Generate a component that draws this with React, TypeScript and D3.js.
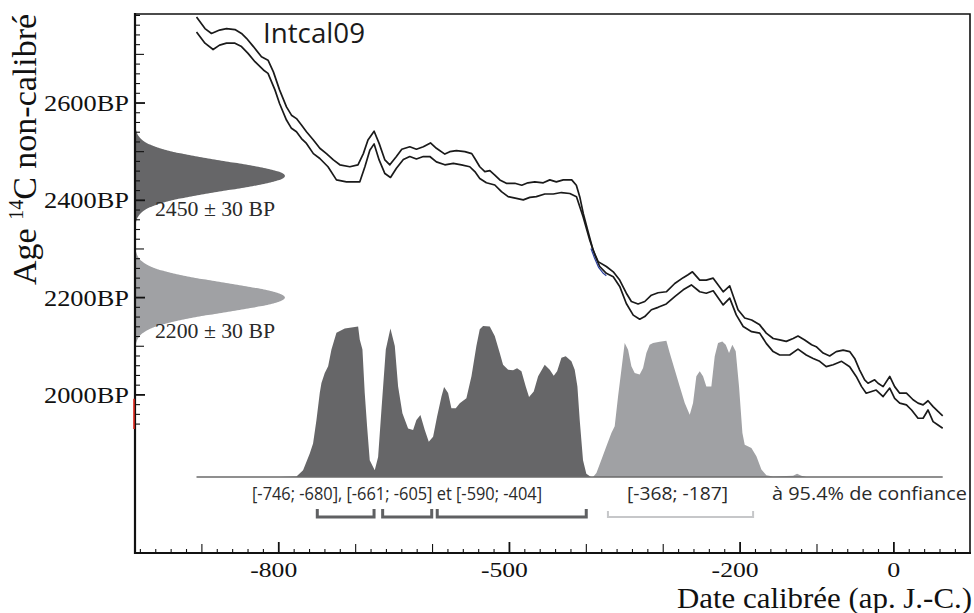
import React from 'react';
import * as d3 from 'd3';

const W = 974;
const H = 613;

// IntCal09 envelope, [calendar year, 14C age BP]
const intcalUpper: [number, number][] = [
  [-907, 2777], [-896, 2753], [-887.5, 2743], [-877, 2750], [-868, 2753], [-857, 2751], [-848.5, 2743],
  [-842, 2733], [-833, 2716], [-822.5, 2695], [-814, 2688], [-807, 2664], [-799, 2627], [-790, 2592],
  [-783.5, 2575], [-777, 2568], [-770.5, 2555], [-764, 2541], [-755, 2524], [-746.6, 2507], [-738, 2496],
  [-729, 2483], [-720.6, 2473], [-707.6, 2469], [-697, 2473], [-690, 2496], [-684, 2524], [-676, 2542],
  [-669.5, 2517], [-662, 2483], [-655.6, 2473], [-647, 2490], [-640, 2505], [-629.6, 2510], [-621, 2505],
  [-612, 2510], [-602.7, 2518], [-595, 2507], [-584, 2495], [-577.6, 2500], [-569, 2502], [-558, 2500],
  [-549, 2496], [-545, 2486], [-538.6, 2469], [-532, 2459], [-525.5, 2461], [-519, 2452], [-512.5, 2442],
  [-504, 2435], [-493, 2435], [-484, 2431], [-476, 2436], [-467, 2438], [-456, 2436], [-447.5, 2442],
  [-439, 2438], [-430, 2442], [-419, 2442], [-413, 2431], [-408.5, 2407], [-404, 2373], [-397.8, 2336],
  [-391.3, 2298], [-384.7, 2274], [-374, 2264], [-365, 2253], [-356.6, 2236], [-348, 2209], [-341.4, 2192],
  [-332.7, 2187], [-324, 2192], [-315.4, 2205], [-306.7, 2210], [-296, 2212], [-285, 2229], [-274, 2241],
  [-267.7, 2247], [-262, 2253], [-252.5, 2236], [-244, 2236], [-235, 2240], [-222, 2212], [-213.5, 2224],
  [-202.7, 2175], [-194, 2158], [-185, 2154], [-174.5, 2144], [-166, 2127], [-157, 2116], [-148.5, 2113],
  [-140, 2110], [-131, 2116], [-124.7, 2121], [-116, 2113], [-107, 2103], [-101, 2099], [-92, 2086],
  [-83.5, 2080], [-75, 2089], [-66, 2092], [-57.5, 2089], [-51, 2075], [-44.5, 2051], [-38, 2031],
  [-33.6, 2024], [-25, 2031], [-20.6, 2024], [-14, 2017], [-5.4, 2038], [1, 2017], [7.6, 2003.5],
  [16.3, 2003.5], [25, 1990], [31.4, 1983], [38, 1979.5], [44.4, 1988], [51, 1976], [57.4, 1966], [63.5, 1957],
];

const intcalLower: [number, number][] = [
  [-907, 2746], [-896, 2723], [-885.4, 2710], [-877, 2719], [-868, 2723], [-857, 2723], [-848.5, 2716],
  [-840, 2702], [-831, 2685], [-820, 2668], [-814, 2661], [-805, 2627], [-799, 2599], [-790, 2565],
  [-783.5, 2548], [-777, 2541], [-770.5, 2527], [-764, 2517], [-755, 2496], [-746.6, 2486], [-736, 2469],
  [-725, 2442], [-712, 2438], [-701, 2438], [-694.6, 2438], [-688, 2469], [-681.6, 2503], [-676, 2516],
  [-669.5, 2483], [-662, 2455], [-654.7, 2447], [-647, 2466], [-638, 2484], [-629.6, 2490], [-621, 2485],
  [-612, 2490], [-603.6, 2490], [-595, 2479], [-584, 2473], [-573, 2476], [-562.4, 2473], [-551.6, 2469],
  [-545, 2459], [-538.6, 2445], [-530, 2436], [-519, 2431.5], [-510.4, 2418], [-501.7, 2407.5], [-491, 2404],
  [-482, 2401], [-473.5, 2406], [-465, 2407.5], [-454, 2413], [-443, 2413], [-432.4, 2416], [-421.5, 2414],
  [-412.8, 2407.5], [-404.2, 2366], [-395.6, 2318.6], [-389, 2288], [-382.6, 2264], [-374, 2250],
  [-365, 2243], [-356.6, 2223], [-348, 2188], [-339, 2164], [-330.6, 2155.5], [-324, 2161], [-315.4, 2175],
  [-306.7, 2180], [-296, 2187], [-285, 2202], [-274, 2216], [-263.4, 2226], [-252.5, 2212], [-244, 2209],
  [-235, 2214], [-222, 2185], [-213.5, 2199], [-205, 2164.5], [-196, 2140.5], [-185, 2130], [-174.5, 2127],
  [-166, 2106], [-157, 2089], [-148.5, 2082], [-135.5, 2082], [-124.7, 2094], [-114, 2082], [-105, 2075],
  [-96.5, 2069], [-88, 2058], [-79, 2062], [-68, 2069], [-57.5, 2058], [-49, 2038], [-42, 2017], [-36, 2003.5],
  [-29, 2007], [-23, 2010], [-14, 1996.6], [-5.4, 2014], [1, 1993], [7.6, 1983], [16.3, 1979.5], [23, 1969],
  [31.4, 1952], [38, 1952], [44.4, 1969], [51, 1945], [57.4, 1938], [63.5, 1931.6],
];

// short visible piece of the curve's central trace
const intcalMidTrace: [number, number][] = [
  [-394, 2301], [-389.5, 2282], [-384, 2262], [-378, 2250], [-374, 2245],
];

// measured radiocarbon ages
const sampleMeans = [2450, 2200];
const sampleSigmas = [30, 30];
const sampleLabels = ['2450 ± 30 BP', '2200 ± 30 BP'];
const sampleColors = ['#666668', '#a0a1a4'];

// calibrated probability densities, [calendar year, relative probability]
const calibDark: [number, number][] = [
  [-799, 0], [-777, 0.004], [-768.4, 0.044], [-759.7, 0.156], [-755.4, 0.222], [-751, 0.378],
  [-746.7, 0.556], [-744.5, 0.622], [-740.2, 0.689], [-735.8, 0.733], [-731.5, 0.844], [-725, 0.956],
  [-714.2, 0.984], [-696.8, 0.996], [-694.7, 0.911], [-691.2, 0.844], [-688.2, 0.556], [-685.1, 0.333],
  [-681.7, 0.111], [-675.2, 0.044], [-670.8, 0.133], [-666.5, 0.444], [-660.8, 0.844], [-654.8, 0.984],
  [-649.1, 0.867], [-644.8, 0.6], [-639.2, 0.422], [-631.8, 0.322], [-625.3, 0.311], [-621, 0.378],
  [-615.8, 0.411], [-610.1, 0.311], [-604.9, 0.233], [-599.3, 0.267], [-594.1, 0.4], [-588.4, 0.533],
  [-585, 0.596], [-579.8, 0.556], [-575.5, 0.456], [-569.8, 0.456], [-564.6, 0.489], [-556, 0.522],
  [-549.4, 0.667], [-543, 0.867], [-538.6, 0.978], [-534.3, 1.0], [-525.6, 0.996], [-519.1, 0.933],
  [-512.6, 0.822], [-508.3, 0.744], [-501.7, 0.711], [-495.3, 0.707], [-490.1, 0.72], [-484.4, 0.7],
  [-478.8, 0.6], [-474.5, 0.529], [-468.4, 0.567], [-462.7, 0.667], [-454.1, 0.744], [-447.6, 0.711],
  [-442.4, 0.671], [-438, 0.7], [-432.4, 0.789], [-426.8, 0.8], [-419.4, 0.767], [-415.1, 0.711],
  [-411.6, 0.6], [-408.6, 0.378], [-404.3, 0.111], [-400, 0.022], [-394, 0],
];

const calibLight: [number, number][] = [
  [-391.3, 0], [-386.9, 0.026], [-380.4, 0.115], [-373.9, 0.203], [-367.4, 0.291], [-363.1, 0.336],
  [-358.7, 0.534], [-354.4, 0.711], [-350.1, 0.887], [-345.7, 0.843], [-341.4, 0.733], [-337.1, 0.689],
  [-330.6, 0.678], [-326.2, 0.722], [-321.9, 0.821], [-317.6, 0.876], [-313.2, 0.887], [-304.6, 0.896],
  [-295.9, 0.903], [-291.5, 0.821], [-285, 0.711], [-278.5, 0.6], [-272, 0.49], [-265.5, 0.413],
  [-261.2, 0.49], [-256.9, 0.667], [-252.5, 0.7], [-248.2, 0.667], [-243.9, 0.6], [-237.4, 0.6],
  [-233, 0.799], [-228.7, 0.887], [-223.1, 0.898], [-218.7, 0.876], [-214.4, 0.821], [-210.1, 0.876],
  [-205.7, 0.832], [-201.4, 0.6], [-197, 0.291], [-194, 0.214], [-185.3, 0.192], [-178.8, 0.137],
  [-172.3, 0.049], [-165.8, 0.011], [-157.2, 0.004], [-131.1, 0.009], [-125.9, 0.022], [-120.3, 0.009],
  [-113.8, 0],
];

// 95.4 % confidence intervals
const rangesDark: [number, number][] = [[-746, -680], [-661, -605], [-590, -404]];
const rangesLight: [number, number][] = [[-368, -187]];
const rangeTextDark = '[-746; -680], [-661; -605] et [-590; -404]';
const rangeTextLight = '[-368; -187]';
const confidenceText = 'à 95.4% de confiance';

// axes
const xDomain: [number, number] = [-987, 99];
const yDomain: [number, number] = [1675, 2783];
const xTickLabels = [-800, -500, -200, 0];
const yTickLabels = [2000, 2200, 2400, 2600];
const yAxisMark: [number, number] = [1930, 1992];

const curveTitle = 'Intcal09';
const xTitle = 'Date calibrée (ap. J.-C.)';

const SERIF = '"Liberation Serif", "Times New Roman", serif';
const SANS = '"Open Sans", "Noto Sans", sans-serif';

export default function App() {
  const left = 135;
  const right = 970;
  const top = 14;
  const bottom = 553;

  const x = d3.scaleLinear().domain(xDomain).range([left, right]);
  const y = d3.scaleLinear().domain(yDomain).range([bottom, top]);
  const prob = d3.scaleLinear().domain([0, 1]).range([477, 326]);
  const density = d3.scaleLinear().domain([0, 1]).range([left, 285]);

  const line = d3.line<[number, number]>().x((d) => x(d[0])).y((d) => y(d[1])).curve(d3.curveLinear);
  const calibArea = d3
    .area<[number, number]>()
    .x((d) => x(d[0]))
    .y0(prob(0))
    .y1((d) => prob(d[1]))
    .curve(d3.curveLinear);

  const gaussArea = (mean: number, sigma: number) => {
    const zs = d3.range(-3.3, 3.3001, 0.05);
    const pts = zs.map((z) => [mean + z * sigma, Math.exp(-0.5 * z * z)] as [number, number]);
    return d3
      .area<[number, number]>()
      .y((d) => y(d[0]))
      .x0(left)
      .x1((d) => density(d[1]))
      .curve(d3.curveBasis)(pts);
  };

  const xMinor = d3.range(-980, 81, 20);
  const yMinor = d3.range(1940, 2781, 20);

  const bracket = (r: [number, number], drop: number) => {
    const x0 = x(r[0]) - 3;
    const x1 = x(r[1]) + 3;
    const yb = 517;
    return `M${x0},${yb - drop}V${yb}H${x1}V${yb - drop}`;
  };

  const baseStart = intcalUpper[0][0];
  const baseEnd = intcalUpper[intcalUpper.length - 1][0];

  const sansText = (txt: string, x0: number, len: number) => (
    <text
      x={x0}
      y={500}
      fontFamily={SANS}
      fontSize={19}
      fill="#2a2a2a"
      textLength={len}
      lengthAdjust="spacingAndGlyphs"
    >
      {txt}
    </text>
  );

  return (
    <svg
      width={W}
      height={H}
      viewBox={`0 0 ${W} ${H}`}
      style={{ position: 'absolute', left: 0, top: 0, background: '#fff' }}
    >
      <rect x={0} y={0} width={W} height={H} fill="#fff" />

      {/* measured ages as densities on the 14C axis */}
      {sampleMeans.map((m, i) => (
        <path key={`g${i}`} d={gaussArea(m, sampleSigmas[i]) || ''} fill={sampleColors[i]} />
      ))}
      {sampleMeans.map((m, i) => (
        <text
          key={`gl${i}`}
          x={155}
          y={y(m - 2.15 * sampleSigmas[i]) + 9}
          fontFamily={SERIF}
          fontSize={21}
          fill="#2a2a2a"
          textLength={120}
          lengthAdjust="spacingAndGlyphs"
        >
          {sampleLabels[i]}
        </text>
      ))}

      {/* calibrated distributions */}
      <path d={calibArea(calibDark) || ''} fill={sampleColors[0]} />
      <path d={calibArea(calibLight) || ''} fill={sampleColors[1]} />
      <line x1={x(baseStart)} x2={x(baseEnd)} y1={prob(0)} y2={prob(0)} stroke="#6a6a6a" strokeWidth={1.6} />

      {/* calibration curve */}
      <path d={line(intcalUpper) || ''} fill="none" stroke="#1a1a1a" strokeWidth={1.7} strokeLinejoin="round" />
      <path d={line(intcalLower) || ''} fill="none" stroke="#1a1a1a" strokeWidth={1.7} strokeLinejoin="round" />
      <path d={line(intcalMidTrace) || ''} fill="none" stroke="#2b3f9a" strokeWidth={1.2} />
      <text x={263} y={43} fontFamily={SANS} fontSize={27} fill="#1a1a1a" textLength={102} lengthAdjust="spacingAndGlyphs">
        {curveTitle}
      </text>

      {/* confidence intervals */}
      {sansText(rangeTextDark, 252, 290)}
      {sansText(rangeTextLight, 627, 101)}
      {sansText(confidenceText, 772, 195)}
      {rangesDark.map((r, i) => (
        <path key={`bd${i}`} d={bracket(r, 8)} fill="none" stroke="#5f6062" strokeWidth={3} />
      ))}
      {rangesLight.map((r, i) => (
        <path key={`bl${i}`} d={bracket(r, 6)} fill="none" stroke="#c6c7c9" strokeWidth={2} />
      ))}

      {/* frame */}
      <path d={`M${left},${top}H${right}V${bottom}`} fill="none" stroke="#111" strokeWidth={1.6} />
      <line x1={left} x2={left} y1={top - 1} y2={bottom + 1} stroke="#111" strokeWidth={2.2} />
      <line x1={left - 1} x2={right + 1} y1={bottom} y2={bottom} stroke="#111" strokeWidth={2.2} />
      <line x1={left - 1} x2={left - 1} y1={y(yAxisMark[1])} y2={y(yAxisMark[0])} stroke="#e0261b" strokeWidth={1.6} />

      {/* x ticks */}
      {xMinor.map((v) => {
        const major = xTickLabels.includes(v);
        const mid = v % 100 === 0;
        const len = major ? 11 : mid ? 9 : 4;
        return (
          <line
            key={`xt${v}`}
            x1={x(v)}
            x2={x(v)}
            y1={bottom}
            y2={bottom - len}
            stroke="#111"
            strokeWidth={major ? 1.8 : 1.1}
          />
        );
      })}
      {xTickLabels.map((v) => (
        <text
          key={`xl${v}`}
          x={x(v) - (v < 0 ? 5 : 0)}
          y={577}
          textAnchor="middle"
          fontFamily={SERIF}
          fontSize={22}
          fill="#111"
          textLength={v < 0 ? 47 : 13}
          lengthAdjust="spacingAndGlyphs"
        >
          {v}
        </text>
      ))}

      {/* y ticks */}
      {yMinor.map((v) => {
        const major = yTickLabels.includes(v);
        const mid = v % 100 === 0;
        const len = major ? 10 : mid ? 9 : 5;
        return (
          <line
            key={`yt${v}`}
            x1={left}
            x2={left + len}
            y1={y(v)}
            y2={y(v)}
            stroke="#111"
            strokeWidth={major ? 1.8 : 1.1}
          />
        );
      })}
      {yTickLabels.map((v) => (
        <text
          key={`yl${v}`}
          x={129}
          y={y(v) + 8}
          textAnchor="end"
          fontFamily={SERIF}
          fontSize={24}
          fill="#111"
          textLength={85}
          lengthAdjust="spacingAndGlyphs"
        >
          {`${v}BP`}
        </text>
      ))}

      {/* axis titles */}
      <text x={972} y={608} textAnchor="end" fontFamily={SERIF} fontSize={29} fill="#111" textLength={295} lengthAdjust="spacingAndGlyphs">
        {xTitle}
      </text>
      <text transform="translate(36,285) rotate(-90)" fontFamily={SERIF} fontSize={34} fill="#111">
        <tspan>Age </tspan>
        <tspan fontSize={20} dy={-13}>14</tspan>
        <tspan dy={13}>C non-calibré</tspan>
      </text>
    </svg>
  );
}
